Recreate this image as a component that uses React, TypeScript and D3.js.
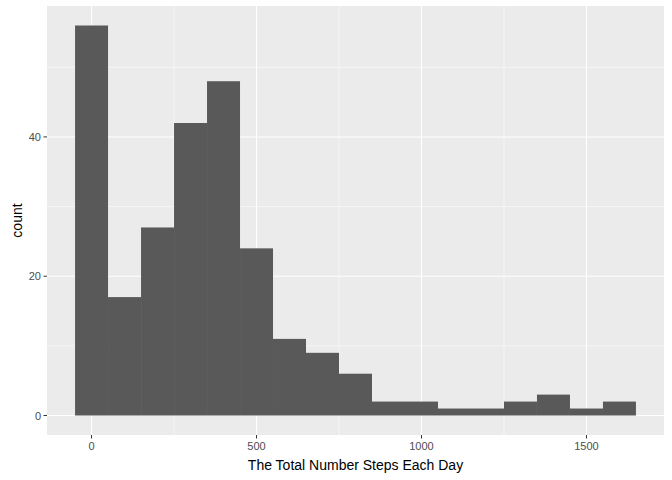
import React from "react";
import * as d3 from "d3";

const binCenters = [0,100,200,300,400,500,600,700,800,900,1000,1100,1200,1300,1400,1500,1600];
const counts = [56,17,27,42,48,24,11,9,6,2,2,1,1,2,3,1,2];
const xTicks = [0,500,1000,1500];
const xMinor = [250,750,1250];
const yTicks = [0,20,40];
const yMinor = [10,30,50];
const binWidth = 100;

export default function App() {
  const W = 672, H = 480;
  const L = 47, R = 664, T = 6, B = 435;
  const x = d3.scaleLinear().domain([-135, 1735]).range([L, R]);
  const y = d3.scaleLinear().domain([-2.8, 58.8]).range([B, T]);
  const font = "Liberation Sans, Arial, sans-serif";
  return (
    <svg width={W} height={H} style={{ position: "absolute", left: 0, top: 0 }}>
      <rect x={0} y={0} width={W} height={H} fill="white" />
      <rect x={L} y={T} width={R - L} height={B - T} fill="#EBEBEB" />
      {xMinor.map(v => <line key={"xm"+v} x1={x(v)} x2={x(v)} y1={T} y2={B} stroke="white" strokeWidth={0.55} />)}
      {yMinor.map(v => <line key={"ym"+v} x1={L} x2={R} y1={y(v)} y2={y(v)} stroke="white" strokeWidth={0.55} />)}
      {xTicks.map(v => <line key={"x"+v} x1={x(v)} x2={x(v)} y1={T} y2={B} stroke="white" strokeWidth={1.1} />)}
      {yTicks.map(v => <line key={"y"+v} x1={L} x2={R} y1={y(v)} y2={y(v)} stroke="white" strokeWidth={1.1} />)}
      {binCenters.map((c, i) => (
        <rect key={c} x={x(c - binWidth / 2)} width={x(c + binWidth / 2) - x(c - binWidth / 2)}
          y={y(counts[i])} height={y(0) - y(counts[i])} fill="#595959" />
      ))}
      {xTicks.map(v => (
        <g key={"xt"+v}>
          <line x1={x(v)} x2={x(v)} y1={B} y2={B + 3.5} stroke="#333" strokeWidth={1} />
          <text x={x(v)} y={B + 15} textAnchor="middle" fontFamily={font} fontSize={11} fill="#4D4D4D">{v}</text>
        </g>
      ))}
      {yTicks.map(v => (
        <g key={"yt"+v}>
          <line x1={L - 3.5} x2={L} y1={y(v)} y2={y(v)} stroke="#333" strokeWidth={1} />
          <text x={L - 6} y={y(v) + 4} textAnchor="end" fontFamily={font} fontSize={11} fill="#4D4D4D">{v}</text>
        </g>
      ))}
      <text x={(L + R) / 2} y={470} textAnchor="middle" fontFamily={font} fontSize={14} fill="black">The Total Number Steps Each Day</text>
      <text transform={`translate(22,${(T + B) / 2}) rotate(-90)`} textAnchor="middle" fontFamily={font} fontSize={14} fill="black">count</text>
    </svg>
  );
}
